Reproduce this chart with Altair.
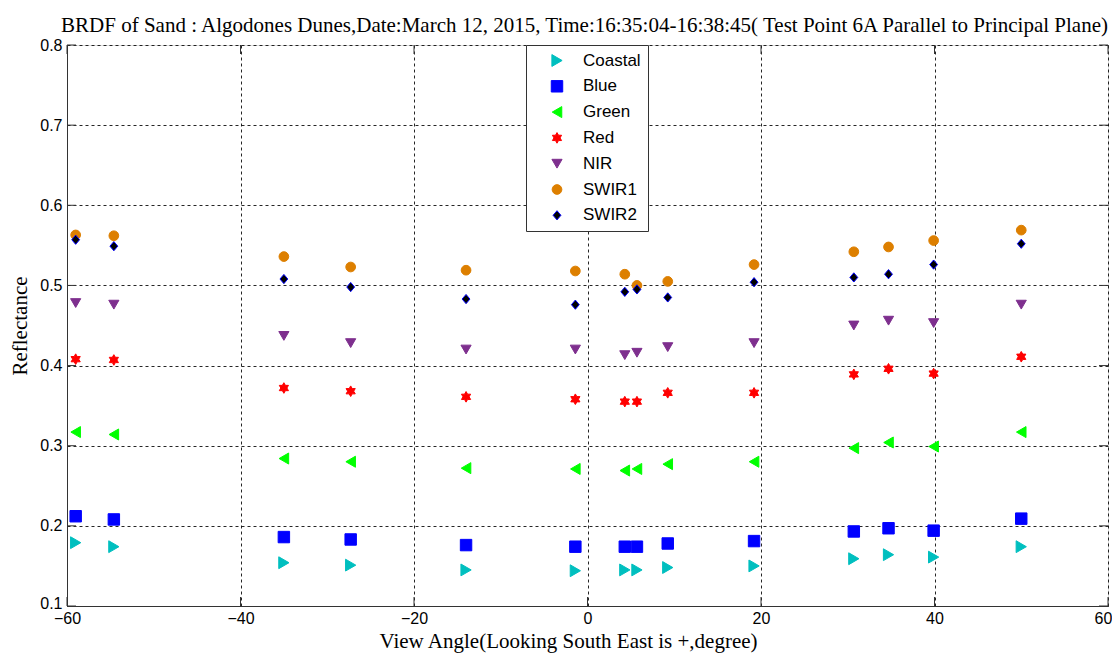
import altair as alt
import pandas as pd

# ---------------- data ----------------
bands = ["Coastal", "Blue", "Green", "Red", "NIR", "SWIR1", "SWIR2"]
angles = [-59.0, -54.6, -35.0, -27.3, -14.0, -1.4, 4.3, 5.7, 9.25, 19.2, 30.7, 34.7, 39.9, 50.0]

coastal = [0.179, 0.174, 0.154, 0.151, 0.145, 0.144, 0.145, 0.145, 0.148, 0.150, 0.159, 0.164, 0.161, 0.174]
blue    = [0.212, 0.208, 0.186, 0.183, 0.176, 0.174, 0.174, 0.174, 0.178, 0.181, 0.193, 0.197, 0.194, 0.209]
green   = [0.317, 0.314, 0.284, 0.280, 0.272, 0.271, 0.269, 0.271, 0.277, 0.280, 0.297, 0.304, 0.299, 0.317]
red     = [0.408, 0.407, 0.372, 0.368, 0.361, 0.358, 0.355, 0.355, 0.366, 0.366, 0.389, 0.396, 0.390, 0.411]
nir     = [0.478, 0.476, 0.437, 0.428, 0.420, 0.420, 0.413, 0.416, 0.423, 0.428, 0.450, 0.456, 0.453, 0.476]
swir1   = [0.563, 0.562, 0.536, 0.523, 0.519, 0.518, 0.514, 0.500, 0.505, 0.526, 0.542, 0.548, 0.556, 0.569]
swir2   = [0.557, 0.549, 0.508, 0.498, 0.483, 0.476, 0.492, 0.495, 0.485, 0.504, 0.510, 0.514, 0.526, 0.552]

series = [coastal, blue, green, red, nir, swir1, swir2]

x_ticks = [-60, -40, -20, 0, 20, 40, 60]
y_ticks = [0.1, 0.2, 0.3, 0.4, 0.5, 0.6, 0.7, 0.8]

title_text = ("BRDF of Sand : Algodones Dunes,Date:March 12, 2015, "
              "Time:16:35:04-16:38:45( Test Point 6A Parallel to Principal Plane)")
x_title = "View Angle(Looking South East is +,degree)"
y_title = "Reflectance"

# ---------------- styles ----------------
fills = ["#00BFBF", "#0000FF", "#00FF00", "#FF0000", "#7E2F8E", "#DD7F00", "#000000"]
strokes = ["#00BFBF", "#0000FF", "#00FF00", "#FF0000", "#7E2F8E", "#DD7F00", "#0000FF"]
hexagram = ("M0,-1L0.2887,-0.5L0.866,-0.5L0.577,0L0.866,0.5L0.2887,0.5L0,1"
            "L-0.2887,0.5L-0.866,0.5L-0.577,0L-0.866,-0.5L-0.2887,-0.5Z")
diamond = "M0,-1L0.85,0L0,1L-0.85,0Z"
shapes = ["triangle-right", "square", "triangle-left", hexagram, "triangle-down", "circle", diamond]
sizes = [140, 85, 140, 130, 170, 130, 144]

rows = []
for i, (b, vals) in enumerate(zip(bands, series)):
    for a, v in zip(angles, vals):
        rows.append({"band": b, "angle": a, "refl": v, "ord": i})
df = pd.DataFrame(rows)

W, H = 1041, 561
SERIF = "Liberation Serif"
SANS = "Liberation Sans"

xscale = alt.Scale(domain=[-60, 60], nice=False, zero=False)
yscale = alt.Scale(domain=[0.1, 0.8], nice=False, zero=False)

xaxis = alt.Axis(values=x_ticks, format="d", grid=True, gridDash=[3, 3], gridColor="#000",
                 gridOpacity=0.85, ticks=False, domain=True, domainColor="#333",
                 labelFont=SANS, labelFontSize=16, labelColor="#000", labelPadding=4,
                 labelFlush=False, labelOverlap=False,
                 labelOffset={"condition": {"test": "datum.value == 60", "value": -5}, "value": 0},
                 titleFont=SERIF, titleFontSize=21, titleFontWeight="normal", titleColor="#000",
                 titleX=501, titleY=41, titleBaseline="alphabetic", titleAlign="center")
yaxis = alt.Axis(values=y_ticks, format=".1f", grid=True, gridDash=[3, 3], gridColor="#000",
                 gridOpacity=0.85, ticks=False, domain=True, domainColor="#333",
                 labelFont=SANS, labelFontSize=16, labelColor="#000", labelPadding=5,
                 labelFlush=False, labelOverlap=False,
                 labelOffset={"condition": {"test": "datum.value < 0.15", "value": -3}, "value": 0},
                 titleFont=SERIF, titleFontSize=21, titleFontWeight="normal", titleColor="#000",
                 titleAngle=270, titleX=-41, titleY=H / 2, titleBaseline="alphabetic",
                 titleAlign="center")

legend = alt.Legend(orient="none", legendX=459, legendY=0, fillColor="white",
                    strokeColor="#333", padding=7, symbolOffset=15.5, labelOffset=17.5,
                    labelFont=SANS, labelFontSize=17, labelColor="#000", rowPadding=7.8,
                    symbolStrokeWidth=1, symbolOpacity=1)

points = alt.Chart(df).mark_point(filled=True, strokeWidth=1, opacity=1).encode(
    x=alt.X("angle:Q", scale=xscale, axis=xaxis, title=x_title),
    y=alt.Y("refl:Q", scale=yscale, axis=yaxis, title=y_title),
    color=alt.Color("band:N", scale=alt.Scale(domain=bands, range=fills), legend=legend, title=None),
    stroke=alt.Stroke("band:N", scale=alt.Scale(domain=bands, range=strokes), legend=legend, title=None),
    shape=alt.Shape("band:N", scale=alt.Scale(domain=bands, range=shapes), legend=legend, title=None),
    size=alt.Size("band:N", scale=alt.Scale(domain=bands, range=sizes), legend=legend, title=None),
    order=alt.Order("ord:Q"),
)

xt = pd.DataFrame({"angle": x_ticks})
yt = pd.DataFrame({"refl": y_ticks})
TL = 9
tick_color = "#333"

xb = alt.Chart(xt).mark_rule(color=tick_color).encode(
    x=alt.X("angle:Q", scale=xscale, title=x_title), y=alt.value(H), y2=alt.value(H - TL))
xtop = alt.Chart(xt).mark_rule(color=tick_color).encode(
    x=alt.X("angle:Q", scale=xscale, title=x_title), y=alt.value(0), y2=alt.value(TL))
yl = alt.Chart(yt).mark_rule(color=tick_color).encode(
    y=alt.Y("refl:Q", scale=yscale, title=y_title), x=alt.value(0), x2=alt.value(TL))
yr = alt.Chart(yt).mark_rule(color=tick_color).encode(
    y=alt.Y("refl:Q", scale=yscale, title=y_title), x=alt.value(W), x2=alt.value(W - TL))

chart = alt.layer(xb, xtop, yl, yr, points).properties(
    width=W, height=H,
    title=alt.Title(text=title_text, font=SERIF, fontSize=21, fontWeight="normal",
                    color="#000", anchor="middle", frame="group", offset=4, dx=-3, dy=3),
    padding={"left": 59, "top": 37, "right": 4, "bottom": 48},
    autosize=alt.AutoSizeParams(type="none"),
).configure_view(stroke="#000", strokeWidth=1).configure(background="white")

chart.save("out.html", embed_options={"renderer": "svg", "actions": False})
